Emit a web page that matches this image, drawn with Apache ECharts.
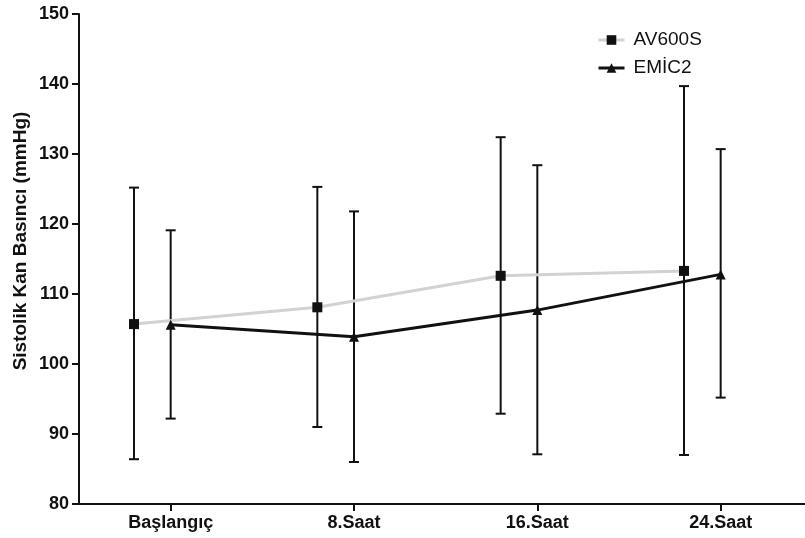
<!DOCTYPE html>
<html>
<head>
<meta charset="utf-8">
<script src="https://cdn.jsdelivr.net/npm/echarts@6/dist/echarts.min.js"></script>
<style>
html,body{margin:0;padding:0;background:#fff;}
#chart{width:805px;height:538px;}
</style>
</head>
<body>
<div id="chart"></div>
<script>
// ---- Data ----
var categories = ["Başlangıç", "8.Saat", "16.Saat", "24.Saat"];
var seriesNames = ["AV600S", "EMİC2"];
var avMean = [105.7, 108.1, 112.6, 113.3];
var avLow  = [86.4, 91.0, 92.9, 87.0];
var avHigh = [125.2, 125.3, 132.4, 139.7];
var emMean = [105.6, 103.9, 107.7, 112.8];
var emLow  = [92.2, 86.0, 87.1, 95.2];
var emHigh = [119.1, 121.8, 128.4, 130.7];
var yTicks = [80, 90, 100, 110, 120, 130, 140, 150];

// ---- Layout (not data) ----
var avOffset = -0.2;   // grouped offset of the first series within a category
var emOffset = 0;
var FONT = '"Liberation Sans", Arial, Helvetica, sans-serif';

function pts(mean, off) {
  return mean.map(function (v, i) { return [i + off, v]; });
}
function bars(low, high, off) {
  return low.map(function (v, i) { return [i + off, v, high[i]]; });
}

var errData = bars(avLow, avHigh, avOffset).concat(bars(emLow, emHigh, emOffset));

var chart = echarts.init(document.getElementById('chart'), null, {renderer: 'canvas'});
chart.setOption({
  animation: false,
  backgroundColor: '#ffffff',
  grid: {left: 79, right: 0, top: 14, bottom: 34, containLabel: false},
  legend: {
    orient: 'vertical',
    left: 592,
    top: 25,
    itemWidth: 26,
    itemHeight: 12,
    itemGap: 8,
    data: seriesNames,
    lineStyle: {width: 3},
    textStyle: {fontFamily: FONT, fontSize: 19, color: '#111', lineHeight: 20, padding: [0, 0, 0, 4]}
  },
  xAxis: {
    type: 'value',
    min: -0.5,
    max: 3.46,
    splitLine: {show: false},
    axisLine: {onZero: false, lineStyle: {color: '#111', width: 2}},
    axisTick: {show: true, length: 7, lineStyle: {color: '#111', width: 2}, customValues: [0, 1, 2, 3]},
    axisLabel: {
      customValues: [0, 1, 2, 3],
      margin: 10,
      fontFamily: FONT, fontSize: 18, fontWeight: 'bold', color: '#111',
      formatter: function (v) { return categories[Math.round(v)] || ''; }
    }
  },
  yAxis: {
    type: 'value',
    min: yTicks[0],
    max: yTicks[yTicks.length - 1],
    interval: yTicks[1] - yTicks[0],
    splitLine: {show: false},
    axisLine: {show: true, onZero: false, lineStyle: {color: '#111', width: 2}},
    axisTick: {show: true, length: 7, lineStyle: {color: '#111', width: 2}},
    axisLabel: {margin: 10, fontFamily: FONT, fontSize: 18, fontWeight: 'bold', color: '#111'}
  },
  graphic: [{
    type: 'text',
    x: 21, y: 241,
    rotation: Math.PI / 2,
    style: {
      text: 'Sistolik Kan Basıncı (mmHg)',
      fontFamily: FONT, fontSize: 19, fontWeight: 'bold', fill: '#111',
      textAlign: 'center', textVerticalAlign: 'middle'
    }
  }],
  series: [
    {
      name: 'errors',
      type: 'custom',
      z: 1,
      silent: true,
      data: errData,
      encode: {x: 0, y: [1, 2]},
      renderItem: function (params, api) {
        var x = api.value(0);
        var lo = api.coord([x, api.value(1)]);
        var hi = api.coord([x, api.value(2)]);
        var cap = 5;
        var st = {stroke: '#111', lineWidth: 2};
        return {
          type: 'group',
          children: [
            {type: 'line', shape: {x1: lo[0], y1: lo[1], x2: hi[0], y2: hi[1]}, style: st},
            {type: 'line', shape: {x1: lo[0] - cap, y1: lo[1], x2: lo[0] + cap, y2: lo[1]}, style: st},
            {type: 'line', shape: {x1: hi[0] - cap, y1: hi[1], x2: hi[0] + cap, y2: hi[1]}, style: st}
          ]
        };
      }
    },
    {
      name: seriesNames[0],
      type: 'line',
      z: 3,
      data: pts(avMean, avOffset),
      symbol: 'rect',
      symbolSize: 10,
      itemStyle: {color: '#111'},
      lineStyle: {color: '#d2d2d2', width: 3},
      emphasis: {disabled: true}
    },
    {
      name: seriesNames[1],
      type: 'line',
      z: 4,
      data: pts(emMean, emOffset),
      symbol: 'triangle',
      symbolSize: 10,
      itemStyle: {color: '#111'},
      lineStyle: {color: '#111', width: 3},
      emphasis: {disabled: true}
    }
  ]
});
</script>
</body>
</html>
